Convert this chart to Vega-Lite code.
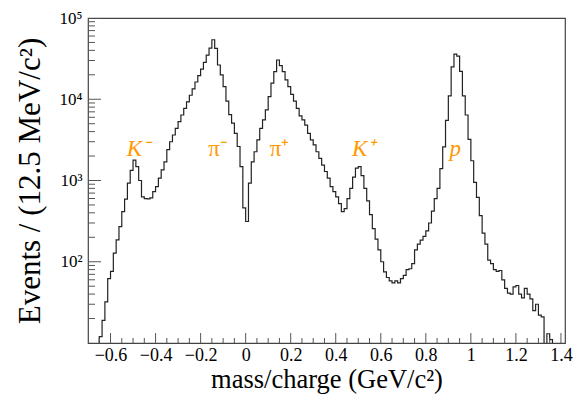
{
  "$schema": "https://vega.github.io/schema/vega-lite/v6.json",
  "width": 477,
  "height": 325,
  "autosize": {"type": "none"},
  "padding": {"left": 88, "top": 18, "right": 16, "bottom": 55},
  "background": "white",
  "config": {"view": {"stroke": "#444", "strokeWidth": 1.2}, "font": "Liberation Serif"},
  "datasets": {
    "xmajor": [{"v": -0.6}, {"v": -0.4}, {"v": -0.2}, {"v": 0}, {"v": 0.2}, {"v": 0.4}, {"v": 0.6}, {"v": 0.8}, {"v": 1.0}, {"v": 1.2}, {"v": 1.4}],
    "xminor": [{"v": -0.65}, {"v": -0.55}, {"v": -0.5}, {"v": -0.45}, {"v": -0.35}, {"v": -0.3}, {"v": -0.25}, {"v": -0.15}, {"v": -0.1}, {"v": -0.05}, {"v": 0.05}, {"v": 0.1}, {"v": 0.15}, {"v": 0.25}, {"v": 0.3}, {"v": 0.35}, {"v": 0.45}, {"v": 0.5}, {"v": 0.55}, {"v": 0.65}, {"v": 0.7}, {"v": 0.75}, {"v": 0.85}, {"v": 0.9}, {"v": 0.95}, {"v": 1.05}, {"v": 1.1}, {"v": 1.15}, {"v": 1.25}, {"v": 1.3}, {"v": 1.35}],
    "ymajor": [{"v": 100}, {"v": 1000}, {"v": 10000}, {"v": 100000}],
    "yminor": [{"v": 20}, {"v": 30}, {"v": 40}, {"v": 50}, {"v": 60}, {"v": 70}, {"v": 80}, {"v": 90}, {"v": 200}, {"v": 300}, {"v": 400}, {"v": 500}, {"v": 600}, {"v": 700}, {"v": 800}, {"v": 900}, {"v": 2000}, {"v": 3000}, {"v": 4000}, {"v": 5000}, {"v": 6000}, {"v": 7000}, {"v": 8000}, {"v": 9000}, {"v": 20000}, {"v": 30000}, {"v": 40000}, {"v": 50000}, {"v": 60000}, {"v": 70000}, {"v": 80000}, {"v": 90000}],
    "labels": [
      {"label": "K⁻", "x": -0.476, "y": 2000},
      {"label": "π⁻", "x": -0.122, "y": 2000},
      {"label": "π⁺", "x": 0.151, "y": 2000},
      {"label": "K⁺", "x": 0.524, "y": 2000},
      {"label": "p", "x": 0.931, "y": 2000}
    ]
  },
  "layer": [
    {
      "data": {"values": [
        {"x": -0.6625, "n": 1},
        {"x": -0.65, "n": 12}, {"x": -0.6375, "n": 19}, {"x": -0.625, "n": 32}, {"x": -0.6125, "n": 62},
        {"x": -0.6, "n": 76}, {"x": -0.5875, "n": 128}, {"x": -0.575, "n": 186}, {"x": -0.5625, "n": 270},
        {"x": -0.55, "n": 414}, {"x": -0.5375, "n": 590}, {"x": -0.525, "n": 930}, {"x": -0.5125, "n": 1330},
        {"x": -0.5, "n": 1780}, {"x": -0.4875, "n": 1480}, {"x": -0.475, "n": 1000}, {"x": -0.4625, "n": 630},
        {"x": -0.45, "n": 600}, {"x": -0.4375, "n": 595}, {"x": -0.425, "n": 610}, {"x": -0.4125, "n": 730},
        {"x": -0.4, "n": 840}, {"x": -0.3875, "n": 1070}, {"x": -0.375, "n": 1350}, {"x": -0.3625, "n": 1700},
        {"x": -0.35, "n": 2400}, {"x": -0.3375, "n": 3000}, {"x": -0.325, "n": 3630}, {"x": -0.3125, "n": 4370},
        {"x": -0.3, "n": 5300}, {"x": -0.2875, "n": 6400}, {"x": -0.275, "n": 7700}, {"x": -0.2625, "n": 9300},
        {"x": -0.25, "n": 11200}, {"x": -0.2375, "n": 13400}, {"x": -0.225, "n": 16300}, {"x": -0.2125, "n": 19500},
        {"x": -0.2, "n": 23500}, {"x": -0.1875, "n": 28500}, {"x": -0.175, "n": 35000}, {"x": -0.1625, "n": 42500},
        {"x": -0.15, "n": 54000}, {"x": -0.1375, "n": 42400}, {"x": -0.125, "n": 26400}, {"x": -0.1125, "n": 19900},
        {"x": -0.1, "n": 14300}, {"x": -0.0875, "n": 9500}, {"x": -0.075, "n": 6450}, {"x": -0.0625, "n": 5070},
        {"x": -0.05, "n": 3800}, {"x": -0.0375, "n": 2620}, {"x": -0.025, "n": 1480}, {"x": -0.0125, "n": 460},
        {"x": 0, "n": 313}, {"x": 0.0125, "n": 930}, {"x": 0.025, "n": 1700}, {"x": 0.0375, "n": 2260},
        {"x": 0.05, "n": 3160}, {"x": 0.0625, "n": 4390}, {"x": 0.075, "n": 5560}, {"x": 0.0875, "n": 7400},
        {"x": 0.1, "n": 10800}, {"x": 0.1125, "n": 15800}, {"x": 0.125, "n": 21900}, {"x": 0.1375, "n": 30400},
        {"x": 0.15, "n": 26000}, {"x": 0.1625, "n": 21900}, {"x": 0.175, "n": 17300}, {"x": 0.1875, "n": 14300},
        {"x": 0.2, "n": 11500}, {"x": 0.2125, "n": 9500}, {"x": 0.225, "n": 7700}, {"x": 0.2375, "n": 6240},
        {"x": 0.25, "n": 5560}, {"x": 0.2625, "n": 4800}, {"x": 0.275, "n": 3800}, {"x": 0.2875, "n": 3160},
        {"x": 0.3, "n": 2750}, {"x": 0.3125, "n": 2260}, {"x": 0.325, "n": 1870}, {"x": 0.3375, "n": 1550},
        {"x": 0.35, "n": 1290}, {"x": 0.3625, "n": 1070}, {"x": 0.375, "n": 840}, {"x": 0.3875, "n": 730},
        {"x": 0.4, "n": 630}, {"x": 0.4125, "n": 520}, {"x": 0.425, "n": 415}, {"x": 0.4375, "n": 450},
        {"x": 0.45, "n": 600}, {"x": 0.4625, "n": 800}, {"x": 0.475, "n": 1100}, {"x": 0.4875, "n": 1420},
        {"x": 0.5, "n": 1480}, {"x": 0.5125, "n": 1150}, {"x": 0.525, "n": 800}, {"x": 0.5375, "n": 560},
        {"x": 0.55, "n": 380}, {"x": 0.5625, "n": 255}, {"x": 0.575, "n": 190}, {"x": 0.5875, "n": 140},
        {"x": 0.6, "n": 100}, {"x": 0.6125, "n": 75}, {"x": 0.625, "n": 64}, {"x": 0.6375, "n": 58},
        {"x": 0.65, "n": 55}, {"x": 0.6625, "n": 58}, {"x": 0.675, "n": 55}, {"x": 0.6875, "n": 62},
        {"x": 0.7, "n": 68}, {"x": 0.7125, "n": 80}, {"x": 0.725, "n": 82}, {"x": 0.7375, "n": 95},
        {"x": 0.75, "n": 140}, {"x": 0.7625, "n": 165}, {"x": 0.775, "n": 185}, {"x": 0.7875, "n": 205},
        {"x": 0.8, "n": 240}, {"x": 0.8125, "n": 300}, {"x": 0.825, "n": 420}, {"x": 0.8375, "n": 600},
        {"x": 0.85, "n": 800}, {"x": 0.8625, "n": 1400}, {"x": 0.875, "n": 2600}, {"x": 0.8875, "n": 5500},
        {"x": 0.9, "n": 11000}, {"x": 0.9125, "n": 25000}, {"x": 0.925, "n": 36000}, {"x": 0.9375, "n": 34000},
        {"x": 0.95, "n": 22000}, {"x": 0.9625, "n": 11000}, {"x": 0.975, "n": 6400}, {"x": 0.9875, "n": 3200},
        {"x": 1.0, "n": 1750}, {"x": 1.0125, "n": 950}, {"x": 1.025, "n": 620}, {"x": 1.0375, "n": 370},
        {"x": 1.05, "n": 225}, {"x": 1.0625, "n": 165}, {"x": 1.075, "n": 105}, {"x": 1.0875, "n": 95},
        {"x": 1.1, "n": 80}, {"x": 1.1125, "n": 76}, {"x": 1.125, "n": 78}, {"x": 1.1375, "n": 60},
        {"x": 1.15, "n": 47}, {"x": 1.1625, "n": 41}, {"x": 1.175, "n": 40}, {"x": 1.1875, "n": 49},
        {"x": 1.2, "n": 51}, {"x": 1.2125, "n": 40}, {"x": 1.225, "n": 36}, {"x": 1.2375, "n": 47},
        {"x": 1.25, "n": 40}, {"x": 1.2625, "n": 35}, {"x": 1.275, "n": 25}, {"x": 1.2875, "n": 30},
        {"x": 1.3, "n": 22}, {"x": 1.3125, "n": 21}, {"x": 1.325, "n": 5}, {"x": 1.3375, "n": 13},
        {"x": 1.35, "n": 11}, {"x": 1.3625, "n": 1}, {"x": 1.418, "n": 1}
      ]},
      "mark": {"type": "line", "interpolate": "step-after", "clip": true, "color": "#222", "strokeWidth": 1.2},
      "encoding": {
        "x": {
          "field": "x", "type": "quantitative",
          "scale": {"domain": [-0.7, 1.418], "nice": false, "zero": false},
          "axis": {
            "title": "mass/charge (GeV/c²)",
            "titleFont": "Liberation Serif", "titleFontSize": 26.5, "titleFontWeight": "normal", "titleColor": "#000",
            "titlePadding": 2,
            "values": [-0.6, -0.4, -0.2, 0, 0.2, 0.4, 0.6, 0.8, 1, 1.2, 1.4],
            "format": "~g",
            "labelExpr": "replace(datum.label, '-', '−')",
            "labelFont": "Liberation Serif", "labelFontSize": 18, "labelColor": "#000", "labelPadding": 3,
            "labelOverlap": false, "labelFlush": false, "labelBound": false,
            "domain": false, "grid": false, "ticks": false
          }
        },
        "y": {
          "field": "n", "type": "quantitative",
          "scale": {"type": "log", "domain": [10, 100000], "nice": false},
          "axis": {
            "title": "Events / (12.5 MeV/c²)",
            "titleFont": "Liberation Serif", "titleFontSize": 31, "titleFontWeight": "normal", "titleColor": "#000",
            "titlePadding": 13,
            "values": [100, 1000, 10000, 100000],
            "labelExpr": "datum.value == 100 ? '10²' : datum.value == 1000 ? '10³' : datum.value == 10000 ? '10⁴' : '10⁵'",
            "labelFont": "Liberation Serif", "labelFontSize": 17, "labelColor": "#000", "labelPadding": 6,
            "labelOverlap": false, "labelFlush": false, "labelBound": false,
            "domain": false, "grid": false, "ticks": false
          }
        }
      }
    },
    {
      "data": {"name": "xmajor"},
      "mark": {"type": "tick", "orient": "vertical", "size": 20, "thickness": 1, "color": "#555", "opacity": 1, "clip": true},
      "encoding": {"x": {"field": "v", "type": "quantitative"}, "y": {"datum": 10}}
    },
    {
      "data": {"name": "xminor"},
      "mark": {"type": "tick", "orient": "vertical", "size": 10, "thickness": 1, "color": "#555", "opacity": 1, "clip": true},
      "encoding": {"x": {"field": "v", "type": "quantitative"}, "y": {"datum": 10}}
    },
    {
      "data": {"name": "ymajor"},
      "mark": {"type": "tick", "orient": "horizontal", "size": 26, "thickness": 1, "color": "#555", "opacity": 1, "clip": true},
      "encoding": {"y": {"field": "v", "type": "quantitative"}, "x": {"datum": -0.7}}
    },
    {
      "data": {"name": "yminor"},
      "mark": {"type": "tick", "orient": "horizontal", "size": 14, "thickness": 1, "color": "#555", "opacity": 1, "clip": true},
      "encoding": {"y": {"field": "v", "type": "quantitative"}, "x": {"datum": -0.7}}
    },
    {
      "data": {"name": "labels"},
      "transform": [{"filter": {"field": "label", "oneOf": ["K⁻", "K⁺", "p"]}}],
      "mark": {"type": "text", "font": "Liberation Serif", "fontStyle": "italic", "fontSize": 23, "color": "#ff9900", "baseline": "alphabetic", "align": "center"},
      "encoding": {
        "x": {"field": "x", "type": "quantitative"},
        "y": {"field": "y", "type": "quantitative"},
        "text": {"field": "label"}
      }
    },
    {
      "data": {"name": "labels"},
      "transform": [{"filter": {"field": "label", "oneOf": ["π⁻", "π⁺"]}}],
      "mark": {"type": "text", "font": "Liberation Serif", "fontSize": 23, "color": "#ff9900", "baseline": "alphabetic", "align": "center"},
      "encoding": {
        "x": {"field": "x", "type": "quantitative"},
        "y": {"field": "y", "type": "quantitative"},
        "text": {"field": "label"}
      }
    }
  ]
}
